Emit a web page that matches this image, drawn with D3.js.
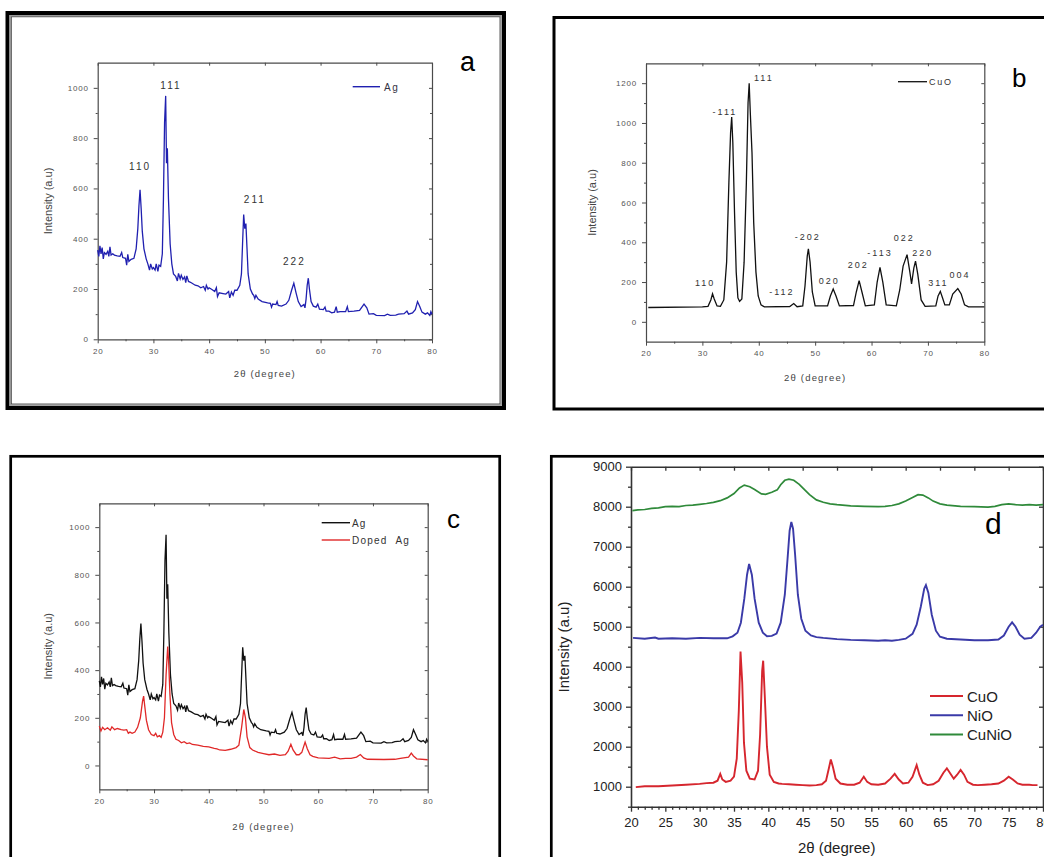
<!DOCTYPE html>
<html><head><meta charset="utf-8">
<script src="https://cdn.jsdelivr.net/npm/d3@7"></script>
<style>body{margin:0;background:#fff}svg{display:block}</style>
</head><body>
<script>
// ---------------- DATA ----------------
const xTicksSmall = [20,30,40,50,60,70,80];
const xTicksD = [20,25,30,35,40,45,50,55,60,65,70,75,80];
const yTicksA = [0,200,400,600,800,1000];
const yTicksB = [0,200,400,600,800,1000,1200];
const yTicksC = [0,200,400,600,800,1000];
const yTicksD = [1000,2000,3000,4000,5000,6000,7000,8000,9000];

// Ag (panels a and c, black/blue curve)
const agX = [20.0,20.2,20.4,20.6,20.8,21.0,21.2,21.5,21.8,22.0,22.2,22.4,22.7,23.0,23.5,24.0,24.3,24.5,25.0,25.2,25.4,25.6,26.0,26.5,26.9,27.2,27.4,27.6,27.8,28.0,28.3,28.7,29.0,29.3,29.5,29.8,30.0,30.3,30.5,30.8,31.0,31.3,31.6,31.8,32.0,32.2,32.35,32.5,32.7,33.0,33.3,33.6,34.0,34.3,34.5,34.8,35.0,35.3,35.6,35.8,36.0,36.3,36.8,37.5,38.0,38.5,39.0,39.3,39.5,39.8,40.0,40.5,41.0,41.3,41.5,41.8,42.5,43.0,43.5,43.7,44.0,44.3,44.6,45.0,45.5,45.8,46.0,46.2,46.4,46.6,46.8,47.0,47.4,47.8,48.0,48.2,48.4,48.8,49.5,50.5,51.0,51.2,51.4,52.0,52.2,52.4,53.0,53.8,54.3,54.8,55.2,55.6,56.0,56.5,57.0,57.2,57.4,57.6,57.8,58.0,58.3,58.7,59.2,59.5,59.8,60.5,60.8,61.0,61.5,62.0,62.5,62.8,63.0,63.5,64.5,64.8,65.0,66.0,67.0,67.8,68.3,68.7,69.5,70.0,71.5,72.0,72.5,73.5,74.0,75.0,75.5,75.8,76.5,77.0,77.4,77.8,78.2,78.8,79.2,79.6,79.8,80.0];
const agY = [355,330,372,340,365,320,345,338,350,330,368,335,340,335,332,330,345,325,322,295,338,310,318,322,360,440,530,595,520,430,360,320,300,275,300,280,285,275,300,270,295,290,340,560,860,968,700,760,560,380,300,260,250,232,262,240,255,238,248,225,252,230,225,215,213,205,210,195,215,200,205,198,190,205,170,185,182,180,190,165,188,175,195,195,215,260,380,496,440,460,360,260,200,180,175,162,175,160,150,145,143,128,140,138,150,135,132,140,155,195,223,185,150,130,138,125,160,215,243,200,150,132,128,140,120,118,128,112,112,105,108,130,108,110,110,130,110,112,115,140,125,100,102,95,94,100,95,96,100,102,112,100,105,118,150,130,108,100,105,95,110,100];

// Doped Ag (panel c, red)
const dopedX = [20.0,20.3,20.6,21.0,21.5,22.0,22.3,22.8,23.3,24.0,24.5,25.0,25.3,25.6,26.0,26.5,27.0,27.5,27.9,28.1,28.3,28.6,29.0,29.5,30.0,30.3,30.6,31.0,31.3,31.6,31.9,32.2,32.5,32.7,32.9,33.2,33.6,34.0,34.5,35.0,35.5,36.0,36.5,37.0,38.0,39.0,40.0,41.0,41.5,42.0,43.0,44.0,45.0,45.5,46.0,46.4,46.7,47.0,47.5,48.0,49.0,50.0,51.0,52.0,53.0,54.0,54.5,55.0,55.4,56.0,56.5,57.0,57.6,58.0,58.5,59.0,60.0,62.0,63.0,64.0,65.0,66.0,67.0,67.7,68.3,69.0,72.0,74.0,75.0,76.5,77.0,77.4,78.0,80.0];
const dopedY = [165,145,160,150,158,148,162,150,155,150,148,150,135,140,135,140,160,200,270,291,250,190,150,130,125,135,120,125,118,140,200,380,499,420,300,180,130,110,105,95,100,92,95,88,85,80,78,72,70,65,63,68,75,85,160,235,200,120,75,65,55,50,45,48,42,45,60,89,65,45,45,55,98,70,45,38,32,30,35,28,30,30,35,46,32,26,25,26,30,35,52,40,28,24];

// CuO (panel b)
const cuoBX = [20.4,30,31,31.5,31.8,32.1,32.6,33.2,33.8,34.3,34.7,35.0,35.2,35.4,35.7,36.0,36.3,36.6,37.0,37.4,37.8,38.1,38.3,38.5,38.8,39.1,39.5,39.9,40.4,41,45.5,46.2,46.8,47.8,48.2,48.6,48.8,49.1,49.5,50,52.2,52.7,53.2,53.7,54.3,56.8,57.3,57.8,58.3,58.9,60.5,61.0,61.5,62.0,62.6,64.4,65.0,65.6,66.3,66.8,67.1,67.5,67.8,68.2,68.8,69.5,71.4,71.8,72.2,72.6,73.0,73.8,74.4,75.3,75.9,76.5,77.2,80];
const cuoBY = [72,75,78,110,141,115,80,78,110,300,700,950,1030,900,550,250,120,103,115,300,700,1100,1200,1050,850,500,250,130,85,75,77,92,76,80,180,330,367,300,150,80,80,130,165,130,80,82,150,207,150,80,85,200,274,200,85,80,160,280,338,250,190,270,305,240,110,78,80,130,153,120,85,85,140,167,140,85,75,75];

// Panel d series
const cuniX = [20.2,21,22,23,24,25,26,27,28,29,30,31,32,33,34,35,35.8,36.5,37.3,38,39,39.6,40.5,41.3,41.8,42.4,43.0,43.7,44.5,45.3,46,47,48,49,50,52,54,56,57,58,59,60,61,61.8,62.5,63.3,64,65,66,68,70,72,73,74,75,76,77,78,79,80];
const cuniY = [7900,7920,7930,7960,7970,8000,8010,8000,8030,8040,8060,8080,8110,8150,8220,8330,8470,8540,8500,8430,8320,8310,8360,8420,8550,8660,8690,8660,8560,8420,8300,8170,8110,8070,8050,8020,8010,8000,8010,8030,8070,8140,8230,8300,8290,8220,8140,8070,8040,8010,8000,7990,8010,8050,8070,8050,8040,8050,8040,8050];
const nioX = [20.3,22,23.5,24,26,28,30,32,34,34.8,35.5,36.0,36.5,36.9,37.2,37.6,38.0,38.6,39.2,39.8,40.5,41.2,41.8,42.4,42.8,43.1,43.35,43.6,43.9,44.3,44.8,45.4,46.2,47,48,50,52,54,56,57,58,59,60,61,61.6,62.2,62.7,62.95,63.3,63.8,64.4,65,66,68,70,72,73.5,74.3,75.0,75.5,76.0,76.6,77.3,78.3,79.0,79.6,80.0];
const nioY = [4720,4700,4730,4700,4710,4700,4720,4710,4710,4760,4850,5100,5700,6300,6570,6300,5700,5100,4850,4760,4770,4830,5100,5800,6700,7400,7620,7450,6800,5800,5200,4900,4780,4740,4720,4690,4670,4660,4650,4660,4650,4670,4700,4820,5050,5500,5950,6040,5850,5300,4900,4750,4700,4680,4660,4660,4680,4780,5000,5110,5000,4800,4700,4720,4850,5000,5050];
const cuoDX = [20.7,22,24,26,28,30,31,32,32.6,33.0,33.3,33.8,34.5,35.0,35.4,35.7,35.95,36.2,36.45,36.8,37.3,38.0,38.5,38.8,39.1,39.25,39.5,39.8,40.2,40.8,41.5,42,43,44,45,46,47,47.8,48.4,48.8,49.1,49.4,49.8,50.5,51.5,52.5,53.3,53.9,54.4,55,56,57,57.8,58.4,59.0,59.6,60.4,61.0,61.6,62.0,62.5,63.2,64,64.8,65.5,66.0,66.5,67.0,67.5,68.0,68.5,69.0,69.8,70.5,71.5,72.5,73.5,74.3,75.0,75.6,76.3,77,78,78.5,79.2];
const cuoDY = [990,1010,1010,1030,1050,1070,1090,1100,1150,1320,1180,1120,1150,1250,1700,2900,4380,3600,2100,1400,1200,1180,1400,2300,3900,4150,3200,2000,1300,1120,1080,1070,1060,1050,1040,1030,1040,1060,1150,1450,1680,1500,1200,1080,1050,1050,1100,1250,1120,1060,1050,1080,1200,1320,1180,1080,1100,1250,1540,1300,1100,1040,1060,1150,1350,1460,1330,1200,1300,1420,1300,1120,1050,1040,1050,1060,1080,1150,1250,1180,1080,1050,1050,1040,1040];

// Peak labels (text, 2θ, intensity anchor)
const peakA = [["110",27.6,675],["111",33.15,996],["211",48.2,542],["222",55.3,296]];
const peakB = [["-111",34.0,1040],["111",40.9,1210],["110",30.5,182],["-112",44.1,136],["-202",48.7,411],["020",52.5,189],["202",57.65,270],["-113",61.5,330],["022",65.8,404],["220",69.1,330],["311",71.85,178],["004",75.7,221]];

const zip = (xs, ys) => xs.map((x,i)=>[x, ys[i]]);
const fmt = d3.format("d");

// ---------------- DRAW ----------------
const svg = d3.select("body").append("svg").attr("width",1044).attr("height",857);
const FONT = "'Liberation Sans', Arial, sans-serif";

// frames
svg.append("rect").attr("x",7.5).attr("y",13).attr("width",496.5).attr("height",395).attr("fill","none").attr("stroke","#000").attr("stroke-width",4);
svg.append("rect").attr("x",10.2).attr("y",15.7).attr("width",491).attr("height",389.5).attr("fill","none").attr("stroke","#9a9a9a").attr("stroke-width",1.4);
svg.append("rect").attr("x",11.3).attr("y",16.8).attr("width",488.7).attr("height",387.2).attr("fill","none").attr("stroke","#333").attr("stroke-width",0.8);
svg.append("rect").attr("x",554).attr("y",17.5).attr("width",600).attr("height",391.5).attr("fill","none").attr("stroke","#000").attr("stroke-width",3);
svg.append("rect").attr("x",10.7).attr("y",456.3).attr("width",489).attr("height",500).attr("fill","none").attr("stroke","#000").attr("stroke-width",2.7);
svg.append("rect").attr("x",551.3).attr("y",456.3).attr("width",600).attr("height",500).attr("fill","none").attr("stroke","#000").attr("stroke-width",2.7);

function smallPanel(cfg){
  const g = svg.append("g");
  const x = d3.scaleLinear().domain([20,80]).range([cfg.l,cfg.r]);
  const y = d3.scaleLinear().domain(cfg.yd).range([cfg.b,cfg.t]);
  const minorX = d3.range(25,80,10);
  const minorY = d3.range(cfg.yd[0]<0?-100:100, cfg.yd[1], 200).filter(v=>v>cfg.yd[0]);
  const style = (sel)=>{
    sel.select(".domain").attr("stroke","#4a4a4a").attr("stroke-width",1.2);
    sel.selectAll(".tick line").attr("stroke","#4a4a4a").attr("stroke-width",1);
    sel.selectAll("text").attr("font-family",FONT).attr("font-size",8).attr("fill","#555").attr("letter-spacing",0.8);
  };
  g.append("g").attr("transform",`translate(0,${cfg.b})`).call(d3.axisBottom(x).tickValues(xTicksSmall).tickFormat(fmt).tickSize(4).tickSizeOuter(0).tickPadding(5)).call(style);
  g.append("g").attr("transform",`translate(0,${cfg.b})`).call(d3.axisBottom(x).tickValues(minorX).tickSize(2).tickFormat("")).call(style).select(".domain").remove();
  g.append("g").attr("transform",`translate(${cfg.l},0)`).call(d3.axisLeft(y).tickValues(cfg.yt).tickFormat(fmt).tickSize(4).tickSizeOuter(0).tickPadding(5)).call(style);
  g.append("g").attr("transform",`translate(${cfg.l},0)`).call(d3.axisLeft(y).tickValues(minorY).tickSize(2).tickFormat("")).call(style).select(".domain").remove();
  g.append("g").attr("transform",`translate(0,${cfg.t})`).call(d3.axisTop(x).tickValues(xTicksSmall).tickSize(-3).tickSizeOuter(0).tickFormat("")).call(style);
  g.append("g").attr("transform",`translate(${cfg.r},0)`).call(d3.axisRight(y).tickValues(cfg.yt).tickSize(-3).tickSizeOuter(0).tickFormat("")).call(style);
  g.append("g").attr("transform",`translate(${cfg.r},0)`).call(d3.axisRight(y).tickValues(minorY).tickSize(-2).tickFormat("")).call(style).select(".domain").remove();
  // titles
  g.append("text").attr("transform",`translate(${cfg.ytx},${(cfg.t+cfg.b)/2}) rotate(-90)`).attr("text-anchor","middle").attr("dominant-baseline","middle")
    .attr("font-family",FONT).attr("font-size",11).attr("fill","#444").text("Intensity (a.u)");
  g.append("text").attr("x",(cfg.l+cfg.r)/2).attr("y",cfg.xty).attr("text-anchor","middle")
    .attr("font-family",FONT).attr("font-size",9.5).attr("letter-spacing",1.2).attr("fill","#444").text("2θ (degree)");
  return {g,x,y};
}

const line = (x,y)=>d3.line().x(d=>x(d[0])).y(d=>y(d[1]));

// Panel a
{
  const {g,x,y} = smallPanel({l:97.7,r:432,t:62.7,b:339.3,yd:[0,1100],yt:yTicksA,ytx:49,xty:377});
  g.append("path").datum(zip(agX,agY)).attr("d",line(x,y)).attr("fill","none").attr("stroke","#2020b0").attr("stroke-width",1.3);
  peakA.forEach(p=>g.append("text").attr("x",x(p[1])).attr("y",y(p[2])).attr("text-anchor","middle").attr("font-family",FONT).attr("font-size",10).attr("letter-spacing",2).attr("fill","#333").text(p[0]));
  g.append("line").attr("x1",352.7).attr("x2",380).attr("y1",86.7).attr("y2",86.7).attr("stroke","#2020b0").attr("stroke-width",1.4);
  g.append("text").attr("x",384).attr("y",90.5).attr("font-family",FONT).attr("font-size",10).attr("letter-spacing",1.5).attr("fill","#334").text("Ag");
  g.append("text").attr("x",460).attr("y",70.5).attr("font-family",FONT).attr("font-size",27).attr("fill","#000").text("a");
}
// Panel b
{
  const {g,x,y} = smallPanel({l:646,r:984.3,t:63.3,b:341.7,yd:[-100,1300],yt:yTicksB,ytx:593,xty:381});
  g.append("path").datum(zip(cuoBX,cuoBY)).attr("d",line(x,y)).attr("fill","none").attr("stroke","#111").attr("stroke-width",1.3);
  peakB.forEach(p=>g.append("text").attr("x",x(p[1])).attr("y",y(p[2])).attr("text-anchor","middle").attr("font-family",FONT).attr("font-size",9).attr("letter-spacing",2).attr("fill","#333").text(p[0]));
  g.append("line").attr("x1",898).attr("x2",927).attr("y1",81.7).attr("y2",81.7).attr("stroke","#111").attr("stroke-width",1.3);
  g.append("text").attr("x",929).attr("y",85).attr("font-family",FONT).attr("font-size",9).attr("letter-spacing",1.8).attr("fill","#333").text("CuO");
  g.append("text").attr("x",1012).attr("y",87.3).attr("font-family",FONT).attr("font-size",26).attr("fill","#000").text("b");
}
// Panel c
{
  const {g,x,y} = smallPanel({l:99.3,r:427.7,t:503.3,b:789.3,yd:[-100,1100],yt:yTicksC,ytx:49,xty:830});
  g.append("path").datum(zip(agX,agY)).attr("d",line(x,y)).attr("fill","none").attr("stroke","#111").attr("stroke-width",1.3);
  g.append("path").datum(zip(dopedX,dopedY)).attr("d",line(x,y)).attr("fill","none").attr("stroke","#e02828").attr("stroke-width",1.3);
  g.append("line").attr("x1",321.7).attr("x2",350).attr("y1",522.7).attr("y2",522.7).attr("stroke","#111").attr("stroke-width",1.4);
  g.append("line").attr("x1",321.7).attr("x2",350).attr("y1",540).attr("y2",540).attr("stroke","#e02828").attr("stroke-width",1.4);
  g.append("text").attr("x",352).attr("y",526.5).attr("font-family",FONT).attr("font-size",10).attr("letter-spacing",1.2).attr("fill","#333").text("Ag");
  g.append("text").attr("x",352).attr("y",544).attr("font-family",FONT).attr("font-size",10).attr("letter-spacing",1.2).attr("fill","#333").text("Doped\u00a0\u00a0Ag");
  g.append("text").attr("x",447).attr("y",528.3).attr("font-family",FONT).attr("font-size",26).attr("fill","#000").text("c");
}
// Panel d
{
  const l=631,r=1043,t=466.7,b=806.7;
  const g = svg.append("g");
  const x = d3.scaleLinear().domain([20,80]).range([l,r]);
  const y = d3.scaleLinear().domain([500,9000]).range([b,t]);
  const style = (sel)=>{
    sel.select(".domain").attr("stroke","#333").attr("stroke-width",1.6);
    sel.selectAll(".tick line").attr("stroke","#333").attr("stroke-width",1.3);
    sel.selectAll("text").attr("font-family",FONT).attr("font-size",13).attr("fill","#222");
  };
  const minorX = d3.range(21,80,1).filter(v=>v%5!==0);
  const minorY = d3.range(500,9000,1000);
  g.append("g").attr("transform",`translate(0,${b})`).call(d3.axisBottom(x).tickValues(xTicksD).tickFormat(fmt).tickSize(5).tickSizeOuter(0).tickPadding(6)).call(style);
  g.append("g").attr("transform",`translate(0,${b})`).call(d3.axisBottom(x).tickValues(minorX).tickSize(3).tickFormat("")).call(style).select(".domain").remove();
  g.append("g").attr("transform",`translate(${l},0)`).call(d3.axisLeft(y).tickValues(yTicksD).tickFormat(fmt).tickSize(5).tickSizeOuter(0).tickPadding(4)).call(style);
  g.append("g").attr("transform",`translate(${l},0)`).call(d3.axisLeft(y).tickValues(minorY).tickSize(3).tickFormat("")).call(style).select(".domain").remove();
  g.append("g").attr("transform",`translate(0,${t})`).call(d3.axisTop(x).tickValues(xTicksD).tickSize(-4).tickSizeOuter(0).tickFormat("")).call(style);
  g.append("g").attr("transform",`translate(${r},0)`).call(d3.axisRight(y).tickValues(yTicksD).tickSize(-4).tickSizeOuter(0).tickFormat("")).call(style);
  g.append("path").datum(zip(cuniX,cuniY)).attr("d",line(x,y)).attr("fill","none").attr("stroke","#2f8a3a").attr("stroke-width",1.7);
  g.append("path").datum(zip(nioX,nioY)).attr("d",line(x,y)).attr("fill","none").attr("stroke","#3a3aa8").attr("stroke-width",1.9);
  g.append("path").datum(zip(cuoDX,cuoDY)).attr("d",line(x,y)).attr("fill","none").attr("stroke","#d6262e").attr("stroke-width",1.9);
  g.append("text").attr("transform",`translate(${565},647) rotate(-90)`).attr("text-anchor","middle").attr("dominant-baseline","middle")
    .attr("font-family",FONT).attr("font-size",15).attr("fill","#222").text("Intensity (a.u)");
  g.append("text").attr("x",836.7).attr("y",853).attr("text-anchor","middle").attr("font-family",FONT).attr("font-size",15).attr("fill","#222").text("2θ (degree)");
  const leg = [["CuO","#d6262e"],["NiO","#3a3aa8"],["CuNiO","#2f8a3a"]];
  leg.forEach((e,i)=>{
    const yy = 696 + i*19.3;
    g.append("line").attr("x1",930).attr("x2",963).attr("y1",yy).attr("y2",yy).attr("stroke",e[1]).attr("stroke-width",2);
    g.append("text").attr("x",967).attr("y",yy+5.5).attr("font-family",FONT).attr("font-size",15).attr("fill","#222").text(e[0]);
  });
  g.append("text").attr("x",985).attr("y",534).attr("font-family",FONT).attr("font-size",30).attr("fill","#000").text("d");
}
</script>
</body></html>
